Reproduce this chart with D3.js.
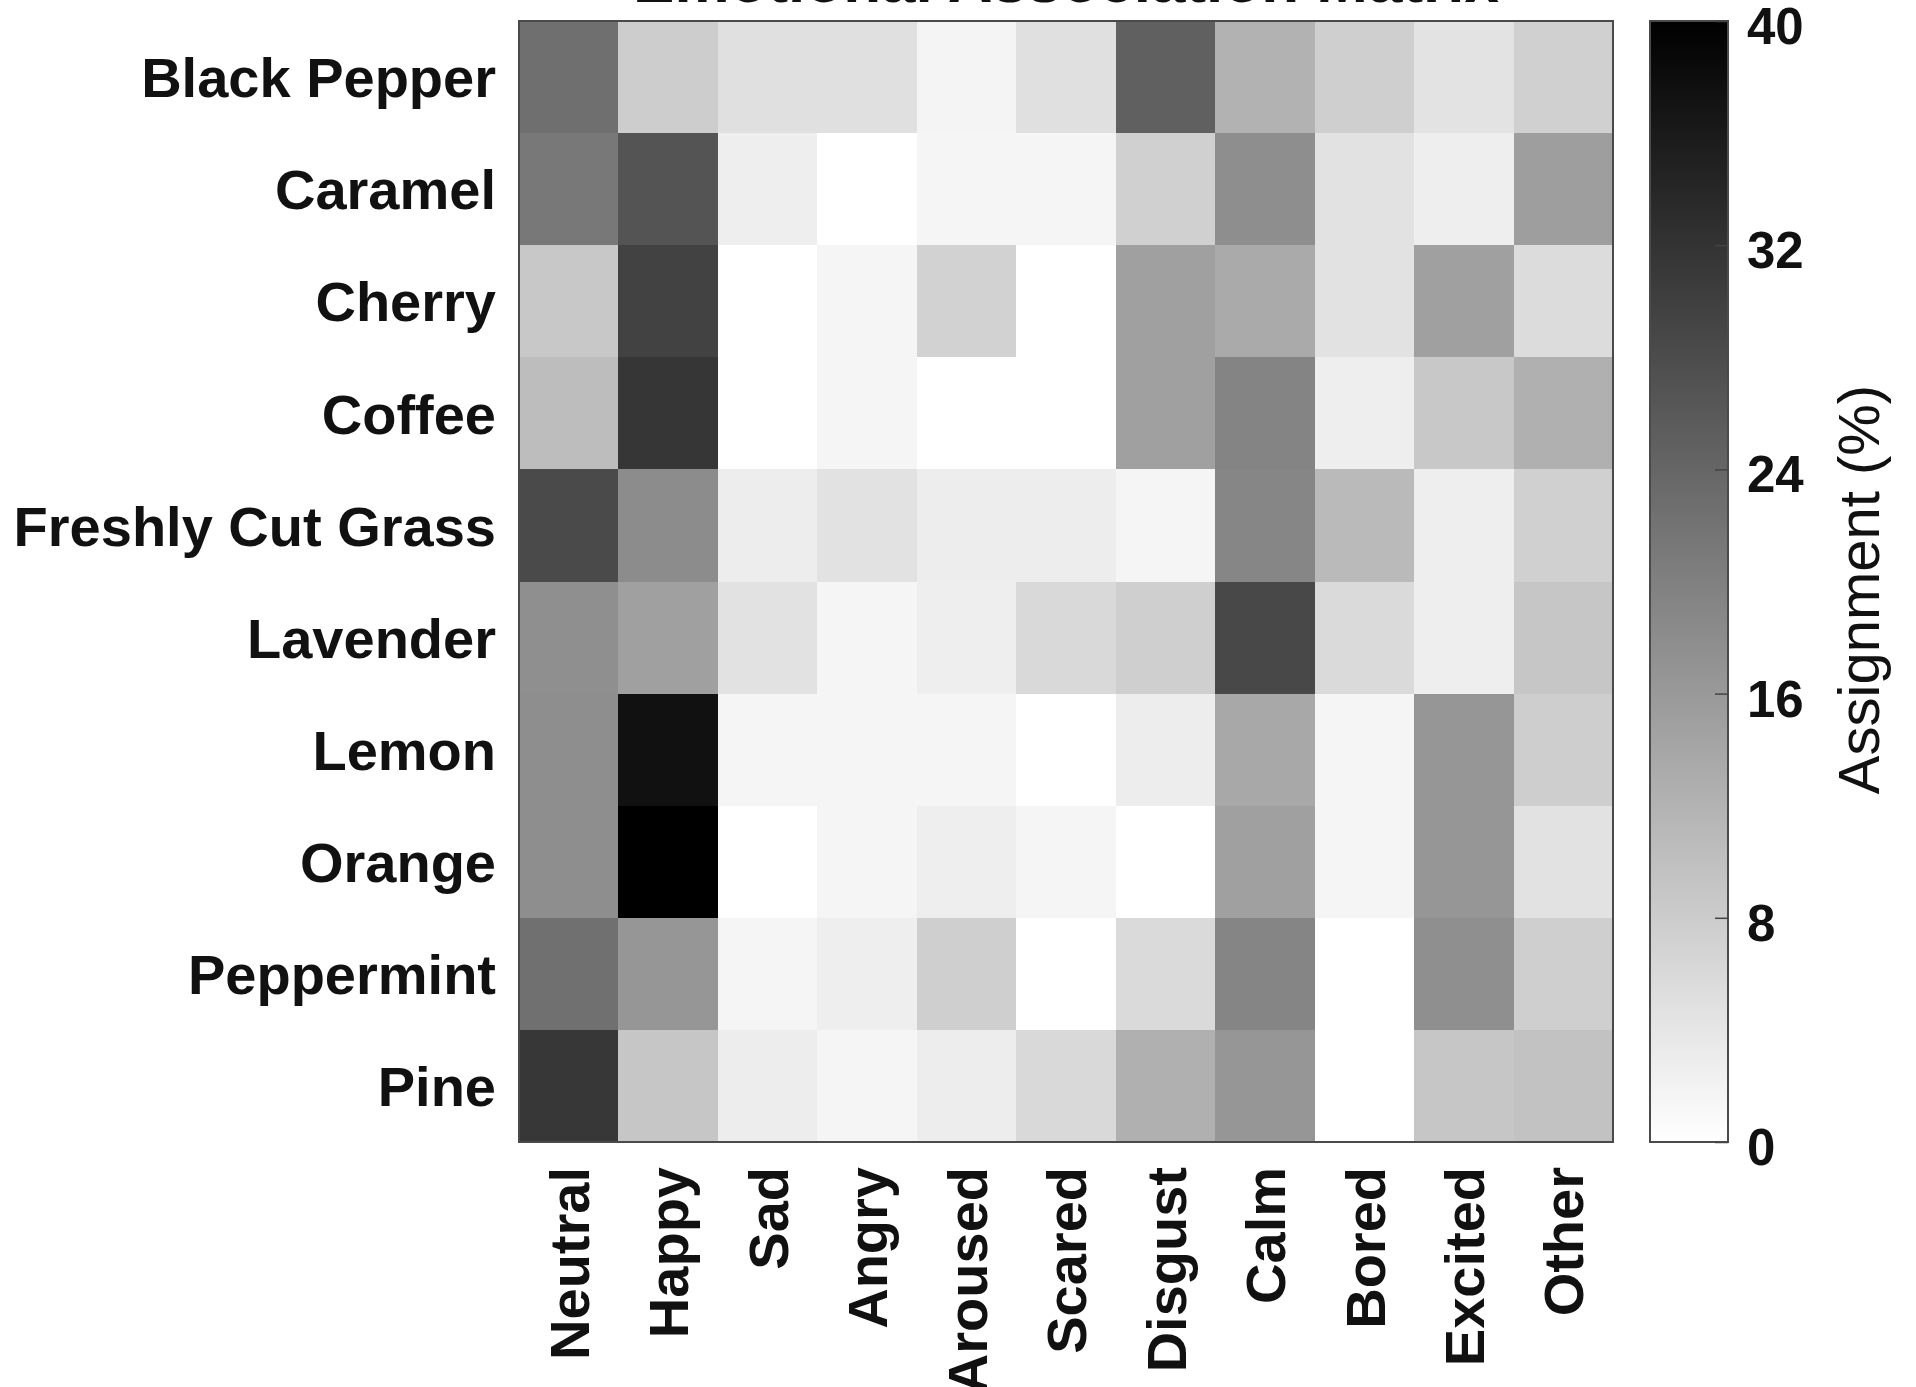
<!DOCTYPE html>
<html><head><meta charset="utf-8">
<script src="https://cdn.jsdelivr.net/npm/d3@7"></script>
<style>html,body{margin:0;padding:0;background:#fff;overflow:hidden}</style>
</head><body><svg id="chart" width="1916" height="1387"></svg>
<script>
const odors = ["Black Pepper","Caramel","Cherry","Coffee","Freshly Cut Grass","Lavender","Lemon","Orange","Peppermint","Pine"];
const emotions = ["Neutral","Happy","Sad","Angry","Aroused","Scared","Disgust","Calm","Bored","Excited","Other"];
// assignment percentages per odor, in emotion order
const blackPepper = [22.6, 7.8, 4.9, 4.9, 1.7, 4.9, 24.9, 12.1, 7.5, 4.4, 7.4];
const caramel     = [21.2, 26.8, 2.7, 0.0, 1.6, 1.6, 7.4, 17.7, 4.5, 2.7, 15.2];
const cherry      = [8.6, 29.6, 0.0, 1.6, 7.1, 0.0, 14.9, 13.3, 4.5, 14.9, 5.5];
const coffee      = [10.4, 31.5, 0.0, 1.6, 0.0, 0.0, 14.9, 19.3, 2.7, 8.6, 12.4];
const grass       = [28.4, 18.0, 2.8, 4.5, 2.8, 2.8, 1.6, 19.0, 10.8, 2.7, 7.4];
const lavender    = [17.6, 14.9, 4.5, 1.6, 2.7, 5.9, 7.5, 28.7, 5.8, 2.7, 8.9];
const lemon       = [17.7, 37.3, 1.6, 1.6, 1.6, 0.0, 2.8, 13.6, 1.6, 16.5, 7.7];
const orange      = [17.7, 40.0, 0.0, 1.6, 2.7, 1.6, 0.0, 14.9, 1.6, 16.5, 4.5];
const peppermint  = [22.4, 16.5, 1.6, 2.7, 7.5, 0.0, 5.8, 19.1, 0.0, 17.6, 7.5];
const pine        = [31.4, 8.9, 2.8, 1.6, 2.8, 5.9, 12.4, 16.4, 0.0, 8.9, 9.6];
const colorTicks = [0, 8, 16, 24, 32, 40];
const colorDomain = [0, 40];
const titleText = "Emotional Association Matrix";
const colorLabel = "Assignment (%)";

const rowsData = [blackPepper, caramel, cherry, coffee, grass, lavender, lemon, orange, peppermint, pine];
const cells = [];
rowsData.forEach((r, i) => r.forEach((v, j) => cells.push({odor: odors[i], emotion: emotions[j], value: v})));

const svg = d3.select("#chart");
const FONT = "'Liberation Sans', Arial, Helvetica, sans-serif";
const TXT = "#111";

const L = 519, R = 1613, T = 21, B = 1142;
const x = d3.scaleBand().domain(emotions).range([L, R]);
const y = d3.scaleBand().domain(odors).range([T, B]);
const color = d3.scaleLinear().domain(colorDomain).range(["#ffffff", "#000000"]);

// cells
svg.append("g").selectAll("rect").data(cells).join("rect")
  .attr("x", d => x(d.emotion))
  .attr("y", d => y(d.odor))
  .attr("width", x.bandwidth() + 0.5)
  .attr("height", y.bandwidth() + 0.5)
  .attr("fill", d => color(d.value))
  .attr("shape-rendering", "crispEdges");

// frame
svg.append("rect").attr("x", L).attr("y", T).attr("width", R - L).attr("height", B - T)
  .attr("fill", "none").attr("stroke", "#4a4a4a").attr("stroke-width", 2);

// y axis
const gy = svg.append("g").attr("transform", `translate(${L},0)`)
  .call(d3.axisLeft(y).tickSize(0).tickPadding(23));
gy.select(".domain").remove();
gy.selectAll("text").style("font-family", FONT).style("font-size", "56px")
  .style("font-weight", "bold").attr("fill", TXT).attr("dy", "0.36em");

// x axis
const gx = svg.append("g").attr("transform", `translate(0,${B})`)
  .call(d3.axisBottom(x).tickSize(0));
gx.select(".domain").remove();
gx.selectAll("text").style("font-family", FONT).style("font-size", "56px")
  .style("font-weight", "bold").attr("fill", TXT)
  .attr("transform", "rotate(-90)").attr("x", -25).attr("y", 0).attr("dy", "0.36em")
  .style("text-anchor", "end");

// title (mostly clipped at top as in reference)
svg.append("text").attr("x", (L + R) / 2).attr("y", 2).attr("text-anchor", "middle")
  .style("font-family", FONT).style("font-size", "62px").style("font-weight", "bold")
  .attr("fill", TXT).text(titleText);

// colorbar
const CL = 1650, CR = 1728;
const cy = d3.scaleLinear().domain(colorDomain).range([B, T]);
const defs = svg.append("defs");
const grad = defs.append("linearGradient").attr("id", "cbar")
  .attr("x1", 0).attr("y1", 1).attr("x2", 0).attr("y2", 0);
d3.range(0, 1.0001, 0.1).forEach(t => {
  const v = colorDomain[0] + t * (colorDomain[1] - colorDomain[0]);
  grad.append("stop").attr("offset", t).attr("stop-color", color(v));
});
svg.append("rect").attr("x", CL).attr("y", cy(colorDomain[1])).attr("width", CR - CL)
  .attr("height", cy(colorDomain[0]) - cy(colorDomain[1]))
  .attr("fill", "url(#cbar)").attr("stroke", "#4a4a4a").attr("stroke-width", 2);

const gc = svg.append("g").attr("transform", `translate(${CR},0)`)
  .call(d3.axisRight(cy).tickValues(colorTicks).tickSize(-13).tickPadding(19).tickFormat(d3.format("d")));
gc.select(".domain").remove();
gc.selectAll("line").attr("stroke", "#444").attr("stroke-width", 1.5);
gc.selectAll("text").style("font-family", FONT).style("font-size", "51px")
  .style("font-weight", "bold").attr("fill", TXT).attr("dy", "0.44em");

svg.append("text").attr("transform", `translate(1879,${(T + B) / 2 + 8}) rotate(-90)`)
  .attr("text-anchor", "middle").style("font-family", FONT).style("font-size", "58px")
  .attr("fill", TXT).text(colorLabel);
</script></body></html>
